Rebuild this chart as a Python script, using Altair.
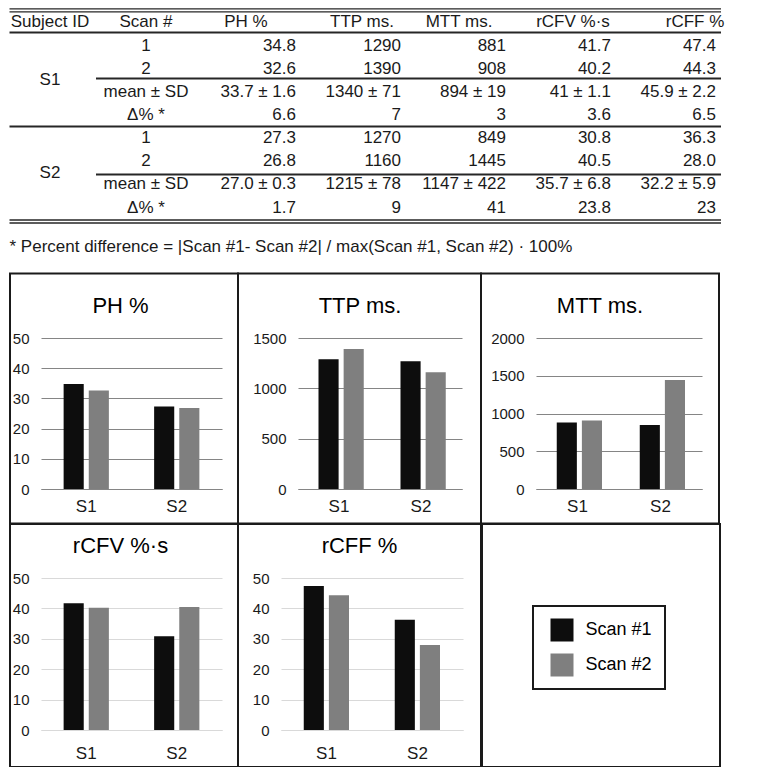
import altair as alt
import pandas as pd

# ---------------- data ----------------
subjects = ["S1", "S2"]
scans = ["Scan #1", "Scan #2"]
metric_names = ["PH %", "TTP ms.", "MTT ms.", "rCFV %·s", "rCFF %"]

ph_scan1 = [34.8, 27.3]
ph_scan2 = [32.6, 26.8]
ttp_scan1 = [1290, 1270]
ttp_scan2 = [1390, 1160]
mtt_scan1 = [881, 849]
mtt_scan2 = [908, 1445]
rcfv_scan1 = [41.7, 30.8]
rcfv_scan2 = [40.2, 40.5]
rcff_scan1 = [47.4, 36.3]
rcff_scan2 = [44.3, 28.0]

mean_sd_s1 = ["33.7 ± 1.6", "1340 ± 71", "894 ± 19", "41 ± 1.1", "45.9 ± 2.2"]
mean_sd_s2 = ["27.0 ± 0.3", "1215 ± 78", "1147 ± 422", "35.7 ± 6.8", "32.2 ± 5.9"]
delta_s1 = ["6.6", "7", "3", "3.6", "6.5"]
delta_s2 = ["1.7", "9", "41", "23.8", "23"]

header_labels = ["Subject ID", "Scan #"] + metric_names
scan_labels = ["1", "2", "mean ± SD", "Δ% *"]
footnote = "* Percent difference = |Scan #1- Scan #2| / max(Scan #1, Scan #2) · 100%"

scan1 = {"PH %": ph_scan1, "TTP ms.": ttp_scan1, "MTT ms.": mtt_scan1,
         "rCFV %·s": rcfv_scan1, "rCFF %": rcff_scan1}
scan2 = {"PH %": ph_scan2, "TTP ms.": ttp_scan2, "MTT ms.": mtt_scan2,
         "rCFV %·s": rcfv_scan2, "rCFF %": rcff_scan2}
number_format = {"PH %": "{:.1f}", "TTP ms.": "{:.0f}", "MTT ms.": "{:.0f}",
                 "rCFV %·s": "{:.1f}", "rCFF %": "{:.1f}"}

# ---------------- style ----------------
FONT = "Liberation Sans"
BLACK = "#0d0d0d"
GRAY = "#7f7f7f"
FRAME = "#1a1a1a"
TXT = "#1a1a1a"
TFS = 17
OX = -32  # table local x offset (rows' left extent)

# ---------------- table ----------------
row_keys = ["h", "S1_1", "S1_2", "S1_m", "S1_d", "S2_1", "S2_2", "S2_m", "S2_d"]
col_keys = ["Subject ID", "Scan #"] + metric_names
yscale = alt.Scale(type="point", domain=row_keys, range=[19.7, 204.5], padding=0)
xscale = alt.Scale(type="point", domain=col_keys, range=[77 + OX, 707 + OX], padding=0)

num_rows = []
for si, s in enumerate(subjects):
    means = mean_sd_s1 if si == 0 else mean_sd_s2
    deltas = delta_s1 if si == 0 else delta_s2
    for mi, m in enumerate(metric_names):
        num_rows.append({"row": f"{s}_1", "col": m, "text": number_format[m].format(scan1[m][si])})
        num_rows.append({"row": f"{s}_2", "col": m, "text": number_format[m].format(scan2[m][si])})
        num_rows.append({"row": f"{s}_m", "col": m, "text": means[mi]})
        num_rows.append({"row": f"{s}_d", "col": m, "text": deltas[mi]})
num_df = pd.DataFrame(num_rows)

scan_df = pd.DataFrame([{"row": f"{s}_{k}", "col": "Scan #", "text": lab}
                        for s in subjects for k, lab in zip(["1", "2", "m", "d"], scan_labels)])
subj_df = pd.DataFrame([{"row": f"{s}_2", "col": "Subject ID", "text": s} for s in subjects])
head_df = pd.DataFrame([{"row": "h", "col": c, "text": c} for c in header_labels])


def txt(df, align, dx=0, dy=0):
    return alt.Chart(df).mark_text(align=align, baseline="alphabetic", fontSize=TFS, dx=dx, dy=dy,
                                   color=TXT, font=FONT).encode(
        x=alt.X("col:N", scale=xscale, axis=None),
        y=alt.Y("row:N", scale=yscale, axis=None),
        text="text:N",
    )


header_dx = {"Subject ID": -36, "Scan #": -45, "PH %": -50, "TTP ms.": -39,
             "MTT ms.": -47, "rCFV %·s": -38, "rCFF %": -21}

table_layers = [
    txt(num_df, "right"),
    txt(scan_df, "center", dx=-45),
    txt(subj_df, "center", dx=-36, dy=11.5),
]
for c in header_labels:
    table_layers.append(txt(head_df[head_df["col"] == c], "center", dx=header_dx[c], dy=-1.2))

one = pd.DataFrame({"k": [0]})
TW = 712 + OX
XL = 0.5 + OX
line_specs = [  # y, x0, x1, width
    (0.8, XL, TW, 1.3), (3.8, XL, TW, 1.3), (24.5, XL, TW, 2),
    (70.5, 87 + OX, TW, 1.8), (118.5, XL, TW, 2), (166.5, 87 + OX, TW, 1.8),
    (212.0, XL, TW, 1.3), (215.0, XL, TW, 1.3),
]
for y, x0, x1, w in line_specs:
    table_layers.append(alt.Chart(one).mark_rule(color="#262626", strokeWidth=w).encode(
        y=alt.value(y), x=alt.value(x0), x2=alt.value(x1)))

table_layers.append(alt.Chart(one).mark_text(align="left", baseline="alphabetic", fontSize=TFS,
                                             color=TXT, font=FONT, text=footnote).encode(
    x=alt.value(XL), y=alt.value(244)))

table = alt.layer(*table_layers).properties(width=TW, height=266)

# ---------------- bar panels ----------------
def long_df(metric):
    rows = []
    for si, s in enumerate(subjects):
        rows.append({"subject": s, "scan": scans[0], "value": scan1[metric][si]})
        rows.append({"subject": s, "scan": scans[1], "value": scan2[metric][si]})
    return pd.DataFrame(rows)


color_scale = alt.Scale(domain=scans, range=[BLACK, GRAY])


def bar_panel(metric, ymax, ystep, W, H, L, R, T, B, grid_color, title_dx, xlab_pad):
    bars = alt.Chart(long_df(metric)).mark_bar().encode(
        x=alt.X("subject:N", sort=subjects,
                scale=alt.Scale(paddingInner=0.5, paddingOuter=0.25),
                axis=alt.Axis(title=None, labelAngle=0, labelFontSize=17, ticks=False, tickSize=0,
                              domain=True, domainColor=grid_color, domainWidth=1,
                              labelPadding=xlab_pad, labelBaseline="alphabetic", grid=False,
                              labelColor=TXT, labelFont=FONT)),
        xOffset=alt.XOffset("scan:N", sort=scans, scale=alt.Scale(paddingInner=0.2)),
        y=alt.Y("value:Q", scale=alt.Scale(domain=[0, ymax], nice=False),
                axis=alt.Axis(title=None, values=list(range(0, ymax + 1, ystep)), grid=True,
                              format="d", gridColor=grid_color, gridWidth=1, ticks=False,
                              tickSize=0, domain=False, labelFontSize=15, labelPadding=12,
                              labelColor=TXT, labelFont=FONT)),
        color=alt.Color("scan:N", sort=scans, scale=color_scale, legend=None),
    )
    frame = alt.Chart(one).mark_rect(fillOpacity=0, stroke=FRAME, strokeWidth=2).encode(
        x=alt.value(-L), x2=alt.value(W + R), y=alt.value(-T), y2=alt.value(H + B))
    title = alt.Chart(one).mark_text(text=metric, fontSize=22, font=FONT, color="#000000",
                                     align="center", baseline="alphabetic").encode(
        x=alt.value(W / 2 + title_dx), y=alt.value(-25))
    return alt.layer(bars, frame, title).properties(width=W, height=H)


G1 = "#858585"
G2 = "#d9d9d9"
p1 = bar_panel("PH %", 50, 10, 181, 151, 31, 16, 64.5, 34.5, G1, -11, 22)
p2 = bar_panel("TTP ms.", 1500, 500, 164, 151, 60, 19, 64.5, 34.5, G1, -20, 22)
p3 = bar_panel("MTT ms.", 2000, 500, 166, 151, 55, 17, 64.5, 34.5, G1, -19, 22)
p4 = bar_panel("rCFV %·s", 50, 10, 181, 152, 31, 16, 54, 37, G2, -11, 28)
p5 = bar_panel("rCFF %", 50, 10, 182, 152, 43, 18, 54, 37, G2, -12.5, 28)

leg_mark = alt.Chart(long_df("PH %")).transform_filter("false").mark_square().encode(
    color=alt.Color("scan:N", sort=scans, scale=color_scale,
                    legend=alt.Legend(orient="none", legendX=51, legendY=28, title=None,
                                      symbolType="square", symbolSize=529, symbolStrokeWidth=0,
                                      symbolOpacity=1, labelFontSize=18, labelFont=FONT,
                                      labelColor="#000000", labelOffset=12, rowPadding=12,
                                      padding=12.5, symbolOffset=5, strokeColor=FRAME)))
leg_frame = alt.Chart(one).mark_rect(fillOpacity=0, stroke=FRAME, strokeWidth=2).encode(
    x=alt.value(0), x2=alt.value(238), y=alt.value(-54), y2=alt.value(152 + 37))
p6 = alt.layer(leg_frame, leg_mark).properties(width=238, height=152)

row1 = alt.hconcat(p1, p2, p3, spacing=-2).resolve_legend(color="independent")
row2 = alt.hconcat(p4, p5, p6, spacing=-2).resolve_legend(color="independent")

chart = alt.vconcat(table, row1, row2, spacing=-2).resolve_legend(
    color="independent").properties(padding=0).configure(font=FONT).configure_view(
    stroke=None).configure_legend(strokeWidth=2)

chart.save("out.html", embed_options={"renderer": "svg", "actions": False})
